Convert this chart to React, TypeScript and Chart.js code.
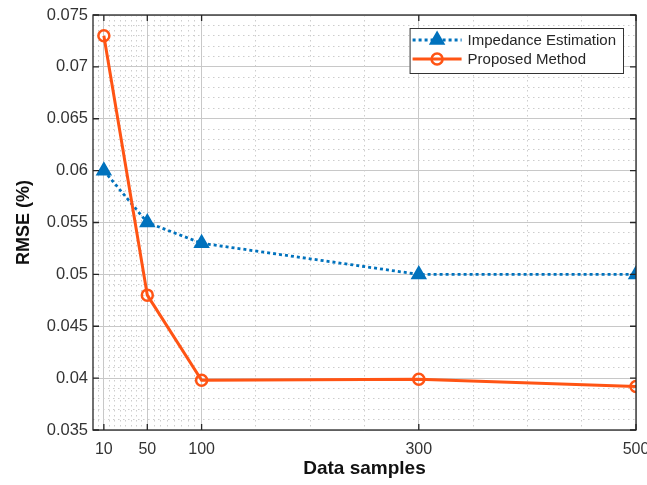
import React, { useEffect, useRef } from 'react';
import { Chart, registerables } from 'chart.js';

Chart.register(...registerables);

// ---- data ----
const xSamples = [10, 50, 100, 300, 500];
const impedanceRMSE = [0.06, 0.055, 0.053, 0.05, 0.05];
const proposedRMSE = [0.073, 0.048, 0.0398, 0.0399, 0.0392];
const seriesLabels = ['Impedance Estimation', 'Proposed Method'];

// ---- axes ----
const xMajorTicks = [10, 50, 100, 300, 500];
const xTickLabels = ['10', '50', '100', '300', '500'];
const xMinorTicks = [5, 15, 20, 25, 30, 35, 40, 45, 56.25, 62.5, 68.75, 75, 81.25, 87.5, 93.75, 150, 200, 250, 350, 400, 450];
const yMajorTicks = [0.035, 0.04, 0.045, 0.05, 0.055, 0.06, 0.065, 0.07, 0.075];
const yTickLabels = ['0.035', '0.04', '0.045', '0.05', '0.055', '0.06', '0.065', '0.07', '0.075'];
const yMinorTicks: number[] = [];
for (let i = 35; i <= 75; i++) if (i % 5 !== 0) yMinorTicks.push(i / 1000);

const xTitle = 'Data samples';
const yTitle = 'RMSE (%)';

const BLUE = '#0072BD';
const ORANGE = '#FF5414';
const FONT = "'Liberation Sans', Arial, sans-serif";
const AXIS_COLOR = '#262626';
const MAJOR_GRID = '#c8c8c8';
const MINOR_GRID = '#cdcdcd';

const idxOf = (v: number, arr: number[]) => arr.findIndex((a) => Math.abs(a - v) < 1e-9);

const frameAndLegend = {
  id: 'frameAndLegend',
  afterDatasetsDraw(chart: any) {
    const { ctx, chartArea: a, scales } = chart;
    ctx.save();
    ctx.strokeStyle = AXIS_COLOR;
    ctx.lineWidth = 1.3;
    ctx.setLineDash([]);
    ctx.strokeRect(a.left, a.top, a.right - a.left, a.bottom - a.top);
    const tl = 6;
    ctx.beginPath();
    xMajorTicks.forEach((v) => {
      const px = scales.x.getPixelForValue(v);
      ctx.moveTo(px, a.bottom);
      ctx.lineTo(px, a.bottom - tl);
      ctx.moveTo(px, a.top);
      ctx.lineTo(px, a.top + tl);
    });
    yMajorTicks.forEach((v) => {
      const py = scales.y.getPixelForValue(v);
      ctx.moveTo(a.left, py);
      ctx.lineTo(a.left + tl, py);
      ctx.moveTo(a.right, py);
      ctx.lineTo(a.right - tl, py);
    });
    ctx.stroke();
    ctx.restore();
  },
  afterDraw(chart: any) {
    const { ctx, chartArea: a } = chart;
    const ds = chart.data.datasets;
    ctx.save();
    ctx.font = `15px ${FONT}`;
    const textW = Math.max(...ds.map((d: any) => ctx.measureText(d.label).width));
    const sampleW = 49;
    const boxW = 3 + sampleW + 6 + textW + 7;
    const boxH = 45;
    const right = a.right - 13;
    const left = right - boxW;
    const top = a.top + 13;
    ctx.fillStyle = '#ffffff';
    ctx.fillRect(left, top, boxW, boxH);
    ctx.strokeStyle = '#333333';
    ctx.lineWidth = 1;
    ctx.strokeRect(left + 0.5, top + 0.5, boxW, boxH);
    const rowY = [top + 12, top + 31];
    ds.forEach((d: any, i: number) => {
      const y = rowY[i];
      const x0 = left + 3;
      const cx = x0 + sampleW / 2;
      ctx.strokeStyle = d.borderColor;
      ctx.lineWidth = d.borderWidth;
      ctx.setLineDash(d.borderDash || []);
      ctx.beginPath();
      ctx.moveTo(x0, y);
      ctx.lineTo(x0 + sampleW, y);
      ctx.stroke();
      ctx.setLineDash([]);
      ctx.lineWidth = d.pointBorderWidth;
      ctx.strokeStyle = d.pointBorderColor;
      ctx.fillStyle = d.pointBackgroundColor;
      ctx.beginPath();
      if (d.pointStyle === 'triangle') {
        const r = d.pointRadius;
        for (let k = 0; k < 3; k++) {
          const ang = (k * 2 * Math.PI) / 3;
          const px = cx + Math.sin(ang) * r;
          const py = y - Math.cos(ang) * r;
          if (k === 0) ctx.moveTo(px, py);
          else ctx.lineTo(px, py);
        }
        ctx.closePath();
        ctx.fill();
        ctx.stroke();
      } else {
        ctx.arc(cx, y, d.pointRadius, 0, Math.PI * 2);
        ctx.fill();
        ctx.stroke();
      }
      ctx.fillStyle = '#262626';
      ctx.textAlign = 'left';
      ctx.textBaseline = 'middle';
      ctx.fillText(d.label, x0 + sampleW + 6, y + 1);
    });
    ctx.restore();
  },
};

export default function App() {
  const ref = useRef<HTMLCanvasElement | null>(null);

  useEffect(() => {
    document.body.style.margin = '0';
    const canvas = ref.current;
    if (!canvas) return;
    const chart = new Chart(canvas, {
      type: 'line',
      data: {
        datasets: [
          {
            label: seriesLabels[0],
            data: xSamples.map((x, i) => ({ x, y: impedanceRMSE[i] })),
            borderColor: BLUE,
            borderWidth: 2.8,
            borderDash: [3, 3],
            pointStyle: 'triangle',
            pointRadius: 7.5,
            pointBorderWidth: 2,
            pointBackgroundColor: BLUE,
            pointBorderColor: BLUE,
            fill: false,
            tension: 0,
            order: 1,
          },
          {
            label: seriesLabels[1],
            data: xSamples.map((x, i) => ({ x, y: proposedRMSE[i] })),
            borderColor: ORANGE,
            borderWidth: 3,
            pointStyle: 'circle',
            pointRadius: 5.5,
            pointBorderWidth: 2.5,
            pointBackgroundColor: 'rgba(0,0,0,0)',
            pointBorderColor: ORANGE,
            fill: false,
            tension: 0,
            order: 0,
          },
        ],
      },
      options: {
        responsive: false,
        animation: false,
        devicePixelRatio: 1,
        layout: { padding: { top: 15, right: 11, left: 0, bottom: 0 } },
        plugins: { legend: { display: false }, tooltip: { enabled: false }, title: { display: false } },
        scales: {
          x: {
            type: 'linear',
            min: 0,
            max: 500,
            afterBuildTicks: (s: any) => {
              s.ticks = [...xMajorTicks, ...xMinorTicks].sort((p, q) => p - q).map((v) => ({ value: v }));
            },
            afterFit: (s: any) => {
              s.height = 55;
              s.paddingLeft = 0;
              s.paddingRight = 0;
            },
            ticks: {
              autoSkip: false,
              maxRotation: 0,
              minRotation: 0,
              padding: 10,
              color: '#333333',
              font: { family: FONT, size: 16 },
              callback: (v: any) => {
                const i = idxOf(Number(v), xMajorTicks);
                return i >= 0 ? xTickLabels[i] : '';
              },
            },
            grid: {
              drawTicks: false,
              color: (c: any) => (c.tick && idxOf(c.tick.value, xMajorTicks) >= 0 ? MAJOR_GRID : MINOR_GRID),
              lineWidth: 1,
            },
            border: {
              display: false,
              dash: (c: any) => (c.tick && idxOf(c.tick.value, xMajorTicks) < 0 ? [1.5, 3.5] : []),
            },
            title: {
              display: true,
              text: xTitle,
              color: '#111111',
              font: { family: FONT, size: 19, weight: 'bold' },
              padding: { top: 0, bottom: 5 },
            },
          },
          y: {
            type: 'linear',
            min: 0.035,
            max: 0.075,
            afterBuildTicks: (s: any) => {
              s.ticks = [...yMajorTicks, ...yMinorTicks].sort((p, q) => p - q).map((v) => ({ value: v }));
            },
            afterFit: (s: any) => {
              s.width = 93;
              s.paddingTop = 0;
              s.paddingBottom = 0;
            },
            ticks: {
              autoSkip: false,
              padding: 5,
              color: '#333333',
              font: { family: FONT, size: 16.5 },
              callback: (v: any) => {
                const i = idxOf(Number(v), yMajorTicks);
                return i >= 0 ? yTickLabels[i] : '';
              },
            },
            grid: {
              drawTicks: false,
              color: (c: any) => (c.tick && idxOf(c.tick.value, yMajorTicks) >= 0 ? MAJOR_GRID : MINOR_GRID),
              lineWidth: 1,
            },
            border: {
              display: false,
              dash: (c: any) => (c.tick && idxOf(c.tick.value, yMajorTicks) < 0 ? [1.5, 3.5] : []),
            },
            title: {
              display: true,
              text: yTitle,
              color: '#111111',
              font: { family: FONT, size: 18, weight: 'bold' },
              padding: { top: 13, bottom: 0 },
            },
          },
        },
      } as any,
      plugins: [frameAndLegend],
    });
    return () => chart.destroy();
  }, []);

  return (
    <div style={{ position: 'absolute', left: 0, top: 0, width: 647, height: 485, background: '#fff' }}>
      <canvas ref={ref} width={647} height={485} />
    </div>
  );
}
